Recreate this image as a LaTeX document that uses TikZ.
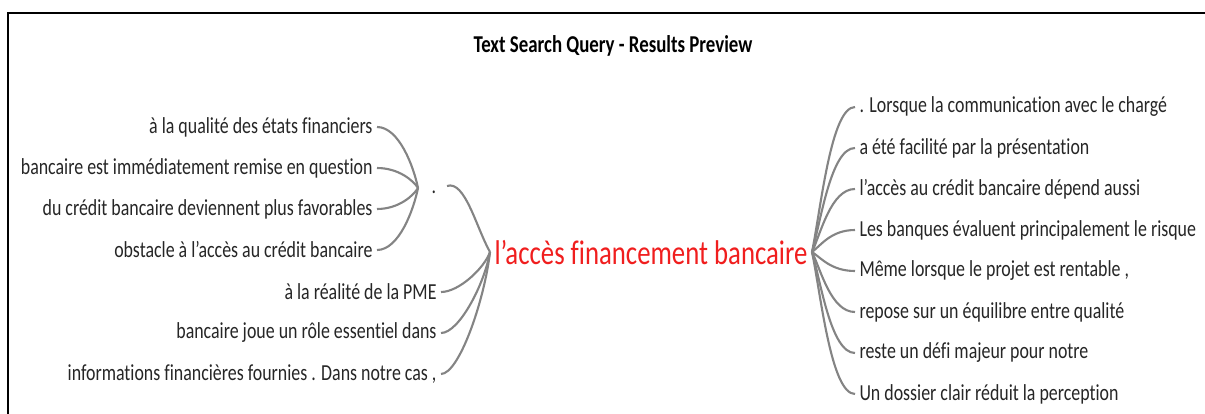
\documentclass[tikz,border=0pt]{standalone}
\usepackage{fontspec}
\setmainfont{Carlito}[FakeStretch=0.78, Ligatures=NoCommon]
\usetikzlibrary{positioning,calc}

\definecolor{branchgray}{RGB}{132,132,132}
\definecolor{hubred}{RGB}{240,30,30}

\tikzset{
  leaf/.style={font=\fontsize{16.3}{18}\selectfont, text=black!85, inner sep=3pt},
  branch/.style={draw=branchgray, line width=1.5pt},
}

\begin{document}
\begin{tikzpicture}[x=0.025cm, y=-0.025cm]
\useasboundingbox (0,0) rectangle (1205,414);
\draw[line width=1.1pt] (8,414) -- (8,13) -- (1205,13);

\node[font=\bfseries\fontsize{17.2}{19}\selectfont] (title) at (613,46) {Text Search Query - Results Preview};

% center word
\node[text=hubred, font=\fontsize{24.4}{27}\selectfont, inner sep=3pt] (hub) at (651,253) {l’accès financement bancaire};

% left side, first group
\node[leaf, anchor=east] (la1) at (377,127) {à la qualité des états financiers};
\node[leaf, anchor=east] (la2) at (377,168) {bancaire est immédiatement remise en question};
\node[leaf, anchor=east] (la3) at (377,209) {du crédit bancaire deviennent plus favorables};
\node[leaf, anchor=east] (la4) at (377,250) {obstacle à l'accès au crédit bancaire};
\node[leaf, inner sep=6pt] (dot) at (434,192) {.};

% left side, second group
\node[leaf, anchor=east] (lb1) at (441,292) {à la réalité de la PME};
\node[leaf, anchor=east] (lb2) at (441,333) {bancaire joue un rôle essentiel dans};
\node[leaf, anchor=east] (lb3) at (441,374) {informations financières fournies . Dans notre cas ,};

% right side
\node[leaf, anchor=west] (r1) at (855,107) {. Lorsque la communication avec le chargé};
\node[leaf, anchor=west] (r2) at (855,148) {a été facilité par la présentation};
\node[leaf, anchor=west] (r3) at (855,189) {l’accès au crédit bancaire dépend aussi};
\node[leaf, anchor=west] (r4) at (855,230) {Les banques évaluent principalement le risque};
\node[leaf, anchor=west] (r5) at (855,271) {Même lorsque le projet est rentable ,};
\node[leaf, anchor=west] (r6) at (855,312) {repose sur un équilibre entre qualité};
\node[leaf, anchor=west] (r7) at (855,353) {reste un défi majeur pour notre};
\node[leaf, anchor=west] (r8) at (855,394) {Un dossier clair réduit la perception};

\coordinate (hubin) at (490,252);
\coordinate (hubout) at (812,252);
\coordinate (dotin) at (418,188);
\coordinate (dotout) at (447,186);

% connectors
\foreach \n in {1,...,4}
  \draw[branch] (la\n.east) .. controls +(22,0) and ($(dotin)!0.35!(la\n.east)+(10,0)$) .. (dotin);
\draw[branch] (dotout) .. controls +(18,-6) and +(-14,-25) .. (hubin);
\foreach \n in {1,...,3}
  \draw[branch] (lb\n.east) .. controls +(18,0) and ($(hubin)!0.4!(lb\n.east)+(14,0)$) .. (hubin);
\foreach \n in {1,...,8}
  \draw[branch] (hubout) .. controls ($(hubout)!0.3!(r\n.west)+(-4,0)$) and +(-24,0) .. (r\n.west);
\end{tikzpicture}
\end{document}
